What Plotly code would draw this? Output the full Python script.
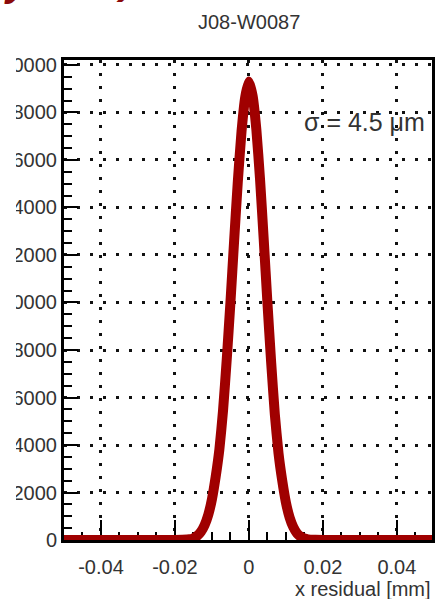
import plotly.graph_objects as go

# ---- data ----
x_mm = [-0.05, -0.03, -0.02, -0.018,
        -0.016, -0.015, -0.014, -0.013, -0.012, -0.011, -0.010, -0.009, -0.008,
        -0.007, -0.006, -0.005, -0.004, -0.003, -0.002, -0.001, 0.0,
        0.001, 0.002, 0.003, 0.004, 0.005, 0.006, 0.007, 0.008,
        0.009, 0.010, 0.011, 0.012, 0.013, 0.014, 0.015, 0.016,
        0.018, 0.02, 0.03, 0.05]
counts = [0, 0, 0, 8,
          30, 75, 170, 340, 620, 1060, 1720, 2650, 3800,
          5450, 7600, 10000, 12600, 15100, 17200, 18650, 19300,
          18700, 17300, 15200, 12650, 10000, 7500, 5300, 3650,
          2500, 1580, 950, 540, 280, 140, 60, 25,
          8, 0, 0, 0]

x_ticks = [-0.04, -0.02, 0, 0.02, 0.04]
x_tick_labels = ["-0.04", "-0.02", "0", "0.02", "0.04"]
y_ticks = [0, 2000, 4000, 6000, 8000, 10000, 12000, 14000, 16000, 18000, 20000]
y_tick_labels = ["0", "2000", "4000", "6000", "8000", "10000", "12000",
                 "14000", "16000", "18000", "20000"]

title_text = "J08-W0087"
x_title = "x residual [mm]"
sigma_text = "σ = 4.5 μm"

W, H = 435, 599
ML, MR, MT, MB = 64, 3, 60, 59
PW = W - ML - MR
PH = H - MT - MB


def px(xp):
    return (xp - ML) / PW


def py(yp):
    return (H - MB - yp) / PH


FONT = "Liberation Sans, Arial, Helvetica, sans-serif"
TXT = "#333333"

fig = go.Figure()
fig.add_trace(go.Scatter(
    x=x_mm, y=counts, mode="lines",
    line=dict(color="#a00000", width=10, shape="spline", smoothing=0.5),
    cliponaxis=False, hoverinfo="skip", showlegend=False,
))

grid_dash = "3px,10px"
fig.update_xaxes(
    range=[-0.05, 0.0495], automargin=False,
    tickvals=x_ticks, ticktext=x_tick_labels,
    ticks="inside", ticklen=20, tickwidth=2, tickcolor="black",
    minor=dict(dtick=0.005, tick0=0, ticks="inside", ticklen=8, tickwidth=2,
               tickcolor="black", showgrid=False),
    showgrid=True, gridcolor="#111111", gridwidth=2.6, griddash=grid_dash,
    showline=True, linecolor="black", linewidth=3, mirror=True,
    zeroline=False, layer="below traces",
    tickfont=dict(family=FONT, size=20, color=TXT),
    ticklabelstandoff=7,
)
fig.update_yaxes(
    range=[0, 20210], automargin=False,
    tickvals=y_ticks, ticktext=y_tick_labels,
    ticks="inside", ticklen=14, tickwidth=2, tickcolor="black",
    minor=dict(dtick=500, tick0=0, ticks="inside", ticklen=8, tickwidth=2,
               tickcolor="black", showgrid=False),
    showgrid=True, gridcolor="#111111", gridwidth=2.6, griddash=grid_dash,
    showline=True, linecolor="black", linewidth=3, mirror=True,
    zeroline=False, layer="below traces",
    tickfont=dict(family=FONT, size=20, color=TXT),
    ticklabelstandoff=0,
)

annotations = [
    dict(text=title_text, x=px(249), y=py(22), xref="paper", yref="paper",
         xanchor="center", yanchor="middle", showarrow=False,
         font=dict(family=FONT, size=20, color=TXT)),
    dict(text=x_title, x=px(433), y=py(589), xref="paper", yref="paper",
         xanchor="right", yanchor="middle", showarrow=False,
         font=dict(family=FONT, size=20, color=TXT)),
    dict(text=sigma_text, x=px(302), y=py(122), xref="paper", yref="paper",
         xanchor="left", yanchor="middle", showarrow=False,
         font=dict(family=FONT, size=25, color=TXT)),
    dict(text="<b><i>y</i></b>", x=px(2), y=py(6), xref="paper", yref="paper",
         xanchor="left", yanchor="bottom", showarrow=False,
         font=dict(family=FONT, size=40, color="#8b0a0a")),
    dict(text="<b><i>)</i></b>", x=px(114), y=py(4), xref="paper", yref="paper",
         xanchor="left", yanchor="bottom", showarrow=False,
         font=dict(family=FONT, size=40, color="#8b0a0a")),
]

shapes = [
    dict(type="rect", xref="paper", yref="paper",
         x0=px(-5), x1=px(16), y0=py(565), y1=py(45),
         fillcolor="white", line=dict(width=0), layer="above"),
]

fig.update_layout(
    width=W, height=H,
    margin=dict(l=ML, r=MR, t=MT, b=MB, pad=0, autoexpand=False),
    paper_bgcolor="white", plot_bgcolor="white",
    showlegend=False,
    annotations=annotations, shapes=shapes,
)

fig.write_html(
    "out.html",
    config={"displayModeBar": False},
    post_script="document.body.style.margin='0';document.body.style.overflow='hidden';",
)
